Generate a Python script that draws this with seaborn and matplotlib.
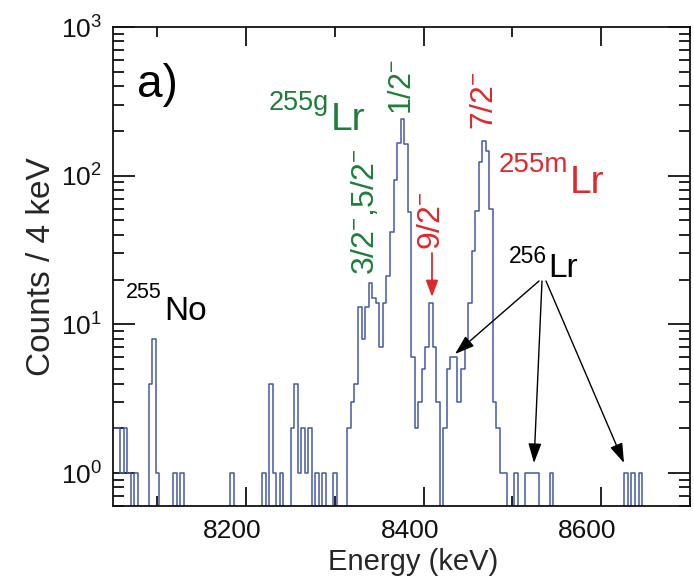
import numpy as np
import pandas as pd
import matplotlib
matplotlib.use("Agg")
import matplotlib.pyplot as plt
import matplotlib.ticker as mticker
import matplotlib.transforms as mtransforms
import matplotlib.patches as mpatches
import seaborn as sns

# ---------------- data (4 keV bins starting at 8050 keV) ----------------
bin_start = 8050
bin_width = 4
counts = [
    2, 2, 1, 2, 1, 0, 1, 0, 0, 0,        # 0-9
    4, 8, 1, 0, 0, 0, 0, 1, 0, 1,        # 10-19
    0, 0, 0, 0, 0, 0, 0, 0, 0, 0,        # 20-29
    0, 0, 0, 1, 0, 0, 0, 0, 0, 0,        # 30-39
    0, 0, 1, 0, 4, 1, 0, 1, 0, 0,        # 40-49
    2, 4, 1, 2, 1, 2, 0, 1, 0, 1,        # 50-59
    0, 0, 1, 0, 0, 0, 2, 3, 4, 13,       # 60-69
    8, 13, 19, 15, 14, 7, 14, 21, 42, 93,  # 70-79
    167, 241, 164, 57, 6, 2, 3, 5, 7, 14,  # 80-89
    7, 3, 0, 2, 5, 6, 6, 3, 5, 8,        # 90-99
    14, 31, 58, 124, 172, 147, 60, 3, 2, 1,  # 100-109
    1, 0, 0, 1, 0, 0, 1, 1, 1, 1,        # 110-119
    0, 0, 0, 1, 0, 0, 0, 0, 0, 0,        # 120-129
    0, 0, 0, 0, 0, 0, 0, 0, 0, 0,        # 130-139
    0, 0, 0, 0, 1, 0, 1, 0, 1, 0,        # 140-149
    0, 0, 0, 0, 0, 0, 0, 0, 0, 0,        # 150-159
    0, 0, 0,                             # 160-162
]
energy_centers = bin_start + bin_width * np.arange(len(counts)) + bin_width / 2
df = pd.DataFrame({"energy": energy_centers, "counts": counts})

x_ticks = [8200, 8400, 8600]
x_minor = [8100, 8300, 8500, 8700]
y_limits = (0.6, 1000)
x_limits = (8050, 8700)

# ---------------- style ----------------
sns.set_theme(style="ticks")
plt.rcParams["font.family"] = ["Liberation Sans", "DejaVu Sans"]
plt.rcParams["mathtext.fontset"] = "custom"
plt.rcParams["mathtext.rm"] = "Liberation Sans"
plt.rcParams["mathtext.it"] = "Liberation Sans:italic"
plt.rcParams["mathtext.bf"] = "Liberation Sans:bold"
plt.rcParams["mathtext.default"] = "regular"

W, H = 694, 584
fig = plt.figure(figsize=(W / 100, H / 100), dpi=100)
ax = fig.add_axes([113 / W, 1 - 506 / H, (690 - 113) / W, (506 - 27) / H])

sns.histplot(data=df, x="energy", weights="counts", binwidth=bin_width,
             binrange=(bin_start, bin_start + bin_width * len(counts)),
             element="step", fill=False, color="#4458a6", linewidth=1.1, ax=ax)
ax.set_yscale("log")
ax.set_xlim(*x_limits)
ax.set_ylim(*y_limits)

GREEN = "#1f7d3c"
RED = "#dc2a2e"

for sp in ax.spines.values():
    sp.set_linewidth(1.3)
    sp.set_color("#111111")

ax.set_xticks(x_ticks)
ax.xaxis.set_minor_locator(mticker.FixedLocator(x_minor))
ax.yaxis.set_major_locator(mticker.LogLocator(base=10, numticks=10))
ax.yaxis.set_minor_locator(mticker.LogLocator(base=10, subs=np.arange(2, 10), numticks=20))
ax.yaxis.set_minor_formatter(mticker.NullFormatter())
ax.tick_params(axis="both", which="both", direction="in", top=True, right=True,
               colors="#111111", labelsize=19, width=1.3)
ax.tick_params(axis="x", which="major", length=14, pad=9)
ax.tick_params(axis="x", which="minor", length=7)
ax.tick_params(axis="y", which="major", length=16, pad=8)
ax.tick_params(axis="y", which="minor", length=8)

# x tick labels in the reference sit a little left of their ticks
offset = mtransforms.ScaledTranslation(-14 / 100, 0, fig.dpi_scale_trans)
for lbl in ax.get_xticklabels():
    lbl.set_transform(lbl.get_transform() + offset)

ax.set_xlabel("Energy (keV)", fontsize=21)
ax.set_ylabel("Counts / 4 keV", fontsize=24)
ax.xaxis.set_label_coords(0.52, -0.088)
ax.yaxis.set_label_coords(-0.097, 0.5)


def fp(x, y):
    """figure-pixel (from top-left) to figure fraction"""
    return (x / W, 1 - y / H)


def ftext(x, y, s, **kw):
    fig.text(*fp(x, y), s, **kw)


# panel label
ftext(137, 97, "a)", fontsize=33, color="black", va="baseline")

# 255No
ftext(126, 298, "255", fontsize=15.5, color="black", va="baseline")
ftext(164, 320, "No", fontsize=24, color="black", va="baseline")

# 255gLr
ftext(269, 110, "255g", fontsize=19.5, color=GREEN, va="baseline")
ftext(331, 130, "Lr", fontsize=28, color=GREEN, va="baseline")

# 255mLr
ftext(499, 172, "255m", fontsize=20, color=RED, va="baseline")
ftext(570, 193, "Lr", fontsize=28, color=RED, va="baseline")

# 256Lr
ftext(509, 263, "256", fontsize=16.5, color="black", va="baseline")
ftext(548, 277, "Lr", fontsize=24, color="black", va="baseline")

# spin labels (rotated)
ftext(403, 87, r"1/2$^{-}$", fontsize=22, color=GREEN, rotation=90, ha="center", va="center")
ftext(366, 212, r"3/2$^{-}$,5/2$^{-}$", fontsize=23, color=GREEN, rotation=90, ha="center", va="center")
ftext(432, 221, r"9/2$^{-}$", fontsize=23, color=RED, rotation=90, ha="center", va="center")
ftext(485, 101, r"7/2$^{-}$", fontsize=23, color=RED, rotation=90, ha="center", va="center")

# arrows
fig.add_artist(mpatches.FancyArrowPatch(
    fp(432, 253), fp(432, 297), transform=fig.transFigure,
    arrowstyle="-|>,head_length=10,head_width=3.7", color=RED, lw=1.3,
    mutation_scale=1, shrinkA=0, shrinkB=0))
for (x0, y0), (x1, y1) in [((539, 281), (455, 354)), ((542, 281), (534, 463)), ((546, 281), (624, 463))]:
    fig.add_artist(mpatches.FancyArrowPatch(
        fp(x0, y0), fp(x1, y1), transform=fig.transFigure,
        arrowstyle="-|>,head_length=12,head_width=4", color="black", lw=1.0,
        mutation_scale=1, shrinkA=0, shrinkB=0))

fig.savefig("out.png", dpi=100)
